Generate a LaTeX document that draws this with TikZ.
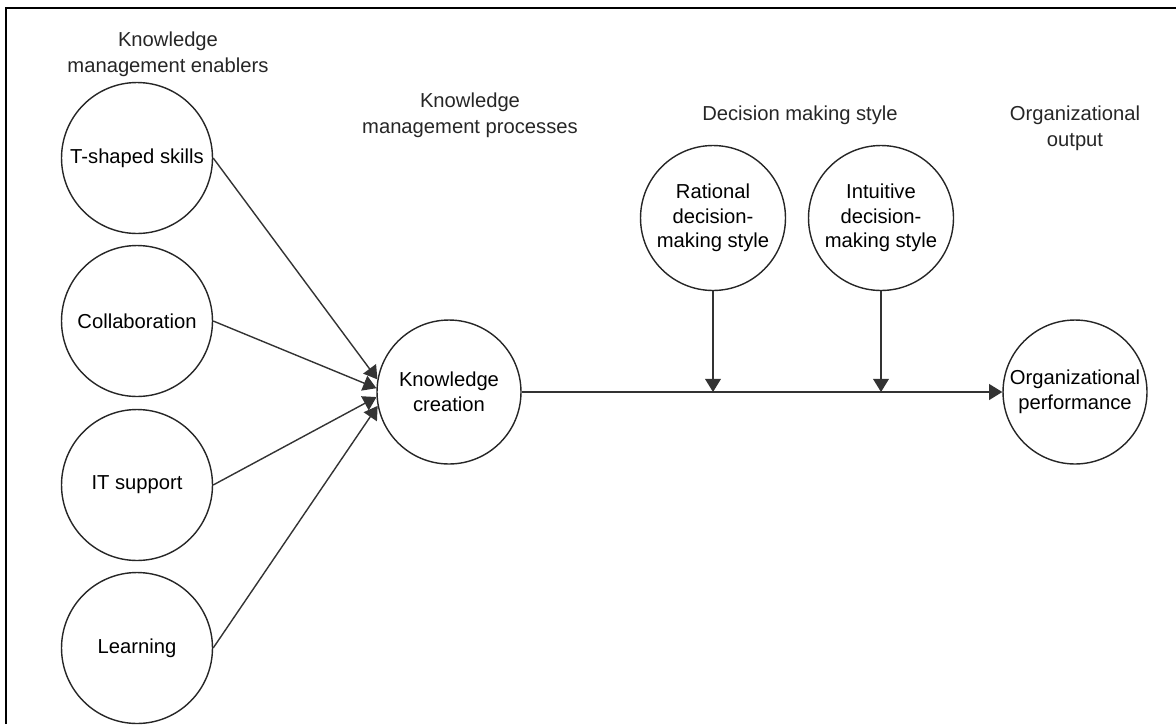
\documentclass[tikz,border=0pt]{standalone}
\usepackage{fontspec}
\setmainfont{Liberation Sans}
\usetikzlibrary{arrows.meta}

\begin{document}
\begin{tikzpicture}[
        x=0.02cm, y=-0.02cm,
        blob/.style={circle, draw=black!85, line width=0.8pt, inner sep=0pt,
          align=center, font=\fontsize{11.5}{14}\selectfont},
        head/.style={align=center, font=\fontsize{11.5}{15}\selectfont,
          text=black!85},
        arr/.style={-{Triangle[length=7.5pt, width=9pt]}, line width=0.8pt,
          draw=black!80},
        frame/.style={line width=1.2pt, black},
      ]
        \useasboundingbox (0,0) rectangle (1176,724);
        \def\ex{137}  % column of the enablers

        % frame (only top and left edges show)
        \draw[frame] (6,724) -- (6,8) -- (1176,8);

        % column headings
        \node[head] (h1) at (168, 54) {Knowledge\\management enablers};
        \node[head] (h2) at (470,115) {Knowledge\\management processes};
        \node[head] (h3) at (800,115) {Decision making style};
        \node[head] (h4) at (1075,128) {Organizational\\output};

        % enablers
        \node[blob, minimum size=3.02cm] (tss) at (\ex,158) {T-shaped skills};
        \node[blob, minimum size=3.02cm] (col) at (\ex,321) {Collaboration};
        \node[blob, minimum size=3.02cm] (its) at (\ex,485) {IT support};
        \node[blob, minimum size=3.02cm] (lrn) at (\ex,648) {Learning};

        % process, moderators and output
        \node[blob, minimum size=2.88cm] (kc)  at (449,392) {Knowledge\\creation};
        \node[blob, minimum size=2.9cm] (rat) at (713,218) {Rational\\decision-\\making style};
        \node[blob, minimum size=2.9cm] (itu) at (881,218) {Intuitive\\decision-\\making style};
        \node[blob, minimum size=2.88cm] (op)  at (1075,392) {Organizational\\performance};

        % enablers -> knowledge creation
        \draw[arr] (tss.east) -- (kc.170);
        \draw[arr] (col.east) -- (kc.177);
        \draw[arr] (its.east) -- (kc.184);
        \draw[arr] (lrn.east) -- (kc.191);

        % knowledge creation -> performance
        \draw[arr] (kc.east) -- (op.west);

        % moderating effects
        \coordinate (m1) at (rat.south |- kc.east);
        \coordinate (m2) at (itu.south |- kc.east);
        \draw[arr] (rat.south) -- (m1);
        \draw[arr] (itu.south) -- (m2);
      \end{tikzpicture}
\end{document}
